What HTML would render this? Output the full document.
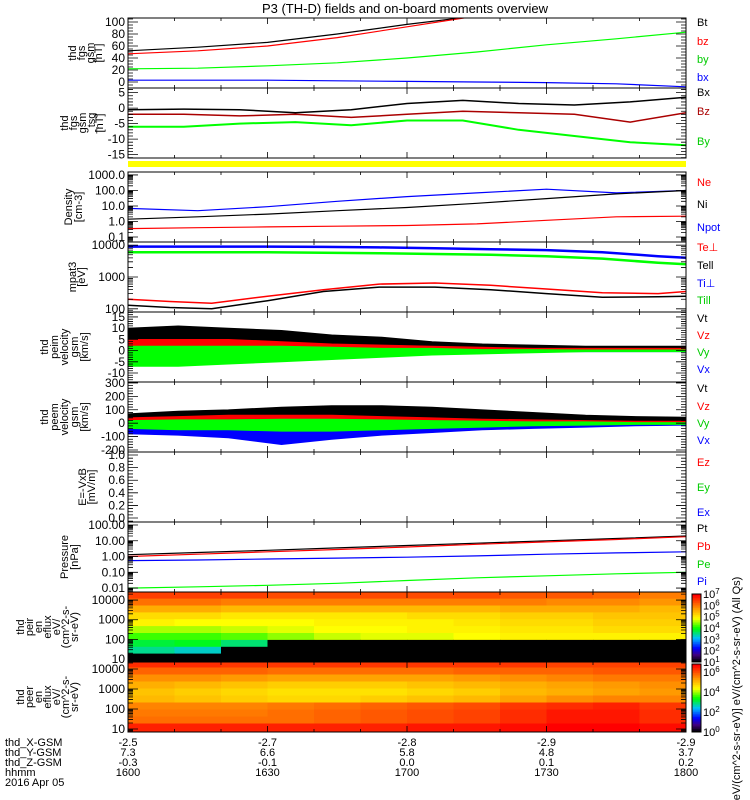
<!DOCTYPE html>
<html><head><meta charset="utf-8"><style>
body{margin:0;background:#fff;}
svg{display:block;font-family:"Liberation Sans",sans-serif;}
</style></head><body>
<svg id="chart" width="750" height="800" viewBox="0 0 750 800">
<rect width="750" height="800" fill="#fff"/>
<text x="405" y="13" font-size="13" text-anchor="middle">P3 (TH-D) fields and on-board moments overview</text>
<g id="marks"></g>
<g id="axes" stroke="#000" fill="none"></g>
<g id="labels" font-size="12" fill="#000"></g>
<rect x="128" y="161" width="558" height="6" fill="#ffff00"/>
<g font-size="11" fill="#000">
<text transform="translate(76,53) rotate(-90)" text-anchor="middle"><tspan x="0" dy="0">thd</tspan><tspan x="0" dy="9">fgs</tspan><tspan x="0" dy="9">gsm</tspan><tspan x="0" dy="8">[nT]</tspan></text>
<text transform="translate(68,123) rotate(-90)" text-anchor="middle"><tspan x="0" dy="0">thd</tspan><tspan x="0" dy="9">fgs</tspan><tspan x="0" dy="9">gsm</tspan><tspan x="0" dy="9">_tsg</tspan><tspan x="0" dy="8">[nT]</tspan></text>
<text transform="translate(72,207) rotate(-90)" text-anchor="middle"><tspan x="0" dy="0">Density</tspan><tspan x="0" dy="10">[cm-3]</tspan></text>
<text transform="translate(76,277) rotate(-90)" text-anchor="middle"><tspan x="0" dy="0">mpat3</tspan><tspan x="0" dy="9">[eV]</tspan></text>
<text transform="translate(48,347) rotate(-90)" text-anchor="middle"><tspan x="0" dy="0">thd</tspan><tspan x="0" dy="10">peim</tspan><tspan x="0" dy="10">velocity</tspan><tspan x="0" dy="10">gsm</tspan><tspan x="0" dy="10">[km/s]</tspan></text>
<text transform="translate(48,417) rotate(-90)" text-anchor="middle"><tspan x="0" dy="0">thd</tspan><tspan x="0" dy="10">peem</tspan><tspan x="0" dy="10">velocity</tspan><tspan x="0" dy="10">gsm</tspan><tspan x="0" dy="10">[km/s]</tspan></text>
<text transform="translate(86,487) rotate(-90)" text-anchor="middle"><tspan x="0" dy="0">E=-VxB</tspan><tspan x="0" dy="9">[mV/m]</tspan></text>
<text transform="translate(68,557) rotate(-90)" text-anchor="middle"><tspan x="0" dy="0">Pressure</tspan><tspan x="0" dy="10">[nPa]</tspan></text>
<text transform="translate(24,627) rotate(-90)" text-anchor="middle"><tspan x="0" dy="0">thd</tspan><tspan x="0" dy="9">peir</tspan><tspan x="0" dy="9">en</tspan><tspan x="0" dy="9">eflux</tspan><tspan x="0" dy="9">eV/</tspan><tspan x="0" dy="9">(cm^2-s-</tspan><tspan x="0" dy="9">sr-eV)</tspan></text>
<text transform="translate(24,697) rotate(-90)" text-anchor="middle"><tspan x="0" dy="0">thd</tspan><tspan x="0" dy="9">peer</tspan><tspan x="0" dy="9">en</tspan><tspan x="0" dy="9">eflux</tspan><tspan x="0" dy="9">eV/</tspan><tspan x="0" dy="9">(cm^2-s-</tspan><tspan x="0" dy="9">sr-eV)</tspan></text>
</g>
<g font-size="11">
<text x="697" y="26" fill="#000">Bt</text>
<text x="697" y="45" fill="#f00">bz</text>
<text x="697" y="63" fill="#0c0">by</text>
<text x="697" y="81" fill="#00f">bx</text>
<text x="697" y="96" fill="#000">Bx</text>
<text x="697" y="115" fill="#a00">Bz</text>
<text x="697" y="145" fill="#0c0">By</text>
<text x="697" y="186" fill="#f00">Ne</text>
<text x="697" y="208" fill="#000">Ni</text>
<text x="697" y="231" fill="#00f">Npot</text>
<text x="697" y="251" fill="#f00">Te⊥</text>
<text x="697" y="269" fill="#000">Tell</text>
<text x="697" y="287" fill="#00f">Ti⊥</text>
<text x="697" y="304" fill="#0c0">Till</text>
<text x="697" y="322" fill="#000">Vt</text>
<text x="697" y="339" fill="#f00">Vz</text>
<text x="697" y="356" fill="#0c0">Vy</text>
<text x="697" y="373" fill="#00f">Vx</text>
<text x="697" y="392" fill="#000">Vt</text>
<text x="697" y="410" fill="#f00">Vz</text>
<text x="697" y="427" fill="#0c0">Vy</text>
<text x="697" y="444" fill="#00f">Vx</text>
<text x="697" y="466" fill="#f00">Ez</text>
<text x="697" y="491" fill="#0c0">Ey</text>
<text x="697" y="516" fill="#00f">Ex</text>
<text x="697" y="532" fill="#000">Pt</text>
<text x="697" y="550" fill="#f00">Pb</text>
<text x="697" y="568" fill="#0c0">Pe</text>
<text x="697" y="585" fill="#00f">Pi</text>
</g>
<g id="cbar"></g>
<text transform="translate(740,690) rotate(-90)" font-size="11" text-anchor="middle">[eV/(cm^2-s-sr-eV)]   eV/(cm^2-s-sr-eV) (All Qs)</text>
<g font-size="11">
<text x="5" y="746">thd_X-GSM</text>
<text x="5" y="756">thd_Y-GSM</text>
<text x="5" y="766">thd_Z-GSM</text>
<text x="5" y="776">hhmm</text>
<text x="5" y="786">2016 Apr 05</text>
</g>
</svg>
<script>
var xTimes = [16.0, 16.5, 17.0, 17.5, 18.0];
var xGsm = ["-2.5", "-2.7", "-2.8", "-2.9", "-2.9"];
var yGsm = ["7.3", "6.6", "5.8", "4.8", "3.7"];
var zGsm = ["-0.3", "-0.1", "0.0", "0.1", "0.2"];
var hhmm = ["1600", "1630", "1700", "1730", "1800"];

var tB1 = [16.0, 16.25, 16.5, 16.75, 17.0, 17.25, 17.5, 17.75, 18.0];
var bt = [52, 58, 66, 80, 96, 110, 125, 140, 155];
var bz = [47, 52, 60, 74, 92, 110, 125, 140, 155];
var by = [22, 23, 27, 32, 40, 50, 62, 72, 83];
var bx = [3, 3, 3, 2, 1, 0, -1, -3, -8];

var tB2 = [16.0, 16.2, 16.4, 16.6, 16.8, 17.0, 17.2, 17.4, 17.6, 17.8, 18.0];
var bxTsg = [-0.5, -0.3, -0.5, -1.5, -0.5, 1.5, 2.5, 1.5, 1, 2, 3.5];
var bzTsg = [-2, -2, -2.5, -2, -3, -2, -1, -1.5, -2, -4.5, -1.5];
var byTsg = [-6, -6, -5, -4.5, -5.5, -4, -4, -7, -9, -11, -12];

var tN = [16.0, 16.25, 16.5, 16.75, 17.0, 17.25, 17.5, 17.75, 18.0];
var nNi = [1.4, 2, 3, 5, 8, 15, 30, 60, 100];
var nNe = [0.35, 0.4, 0.45, 0.5, 0.55, 0.7, 1.2, 2, 2.2];
var nNpot = [7, 5, 9, 20, 40, 70, 120, 70, 100];

var tT = [16.0, 16.15, 16.3, 16.5, 16.7, 16.9, 17.1, 17.3, 17.5, 17.7, 17.9, 18.0];
var tiPerp = [9000, 9000, 9000, 9000, 8800, 8500, 8000, 7500, 7000, 6000, 4500, 4000];
var tiPar = [6000, 6000, 6000, 6000, 5800, 5600, 5300, 5000, 4500, 3800, 2800, 2500];
var tePerp = [200, 170, 150, 250, 400, 600, 650, 550, 420, 320, 300, 350];
var tePar = [130, 110, 100, 180, 350, 480, 480, 400, 300, 230, 240, 250];

var tV = [16.0, 16.18, 16.36, 16.55, 16.73, 16.91, 17.09, 17.27, 17.45, 17.64, 17.82, 18.0];
var viTmax = [10, 11, 10, 9, 7, 6, 4, 3, 2.5, 2, 2, 2];
var viTmin = [2, 2, 2, 2, 1.5, 1, 1, 0.5, 0.5, 0.5, 0.5, 0.5];
var viZmax = [5, 5, 5, 4, 3, 2.5, 2, 1.5, 1, 1, 1, 1];
var viZmin = [-1, -1, -1, -1, -0.5, -0.5, 0, 0, 0, 0, 0, 0];
var viYmax = [2, 2, 2, 2, 1.5, 1, 1, 0.5, 0.5, 0.3, 0.3, 0.3];
var viYmin = [-7, -7, -6, -5, -4, -3, -2, -1.5, -1, -0.5, -0.5, -0.5];
var viXmax = [1, 1, 1, 1, 1, 0.5, 0.5, 0.3, 0.3, 0.2, 0.2, 0.2];
var viXmin = [-5, -5, -5, -4, -3, -2, -1.5, -1, -0.5, -0.5, -0.5, -0.5];

var veTmax = [70, 90, 100, 120, 130, 130, 120, 100, 80, 60, 50, 45];
var veTmin = [20, 30, 40, 40, 40, 40, 30, 25, 20, 15, 15, 15];
var veZmax = [40, 50, 60, 60, 60, 50, 40, 30, 25, 20, 15, 15];
var veZmin = [-10, -10, -10, -10, -10, -5, -5, 0, 0, 0, 0, 0];
var veYmax = [20, 25, 25, 30, 30, 25, 20, 15, 10, 10, 5, 5];
var veYmin = [-40, -50, -50, -60, -60, -50, -40, -30, -20, -15, -10, -10];
var veXmax = [10, 10, 10, 10, 10, 5, 5, 5, 5, 0, 0, 0];
var veXmin = [-80, -90, -110, -160, -120, -90, -70, -50, -40, -30, -20, -15];

var tP = [16.0, 16.25, 16.5, 16.75, 17.0, 17.25, 17.5, 17.75, 18.0];
var pPt = [1.3, 1.8, 2.5, 3.5, 5, 7, 10, 14, 20];
var pPb = [1.0, 1.4, 2.0, 2.8, 4, 6, 8.5, 12, 18];
var pPe = [0.55, 0.6, 0.7, 0.8, 0.9, 1.1, 1.4, 1.7, 2];
var pPi = [0.01, 0.012, 0.015, 0.02, 0.03, 0.045, 0.06, 0.08, 0.1];

var specEnergies = [4.25, 3.9, 3.55, 3.2, 2.85, 2.5, 2.15, 1.8, 1.45, 1.1];
var ionFlux = [
 [6.5,6.5,6.5,6.4,6.4,6.4,6.4,6.4,6.3,6.3,6.2,6.0],
 [6.1,6.1,6.0,6.0,6.0,6.0,6.0,6.0,6.0,5.9,5.9,5.8],
 [5.6,5.6,5.5,5.5,5.5,5.5,5.5,5.5,5.6,5.6,5.6,5.5],
 [5.2,5.2,5.1,5.1,5.1,5.1,5.2,5.2,5.3,5.3,5.4,5.4],
 [5.0,4.9,4.9,4.9,5.0,5.0,5.0,5.1,5.2,5.2,5.3,5.3],
 [4.6,4.6,4.7,4.8,4.9,4.9,5.0,5.0,5.1,5.1,5.2,5.2],
 [4.2,4.2,4.3,4.5,4.7,4.8,4.8,4.9,5.0,5.0,5.0,5.0],
 [3.8,3.9,3.6,0,0,0,0,0,0,0,0,0],
 [3.5,3.3,0,0,0,0,0,0,0,0,0,0],
 [0,0,0,0,0,0,0,0,0,0,0,0]
];
var eleFlux = [
 [6.4,6.4,6.3,6.3,6.3,6.3,6.3,6.3,6.3,6.2,6.2,6.2],
 [5.9,5.9,5.9,5.8,5.8,5.8,5.8,5.9,5.9,5.9,6.0,6.0],
 [5.5,5.5,5.4,5.3,5.3,5.3,5.3,5.4,5.5,5.6,5.7,5.7],
 [5.2,5.1,5.0,4.9,4.9,4.9,5.0,5.1,5.2,5.3,5.4,5.5],
 [5.0,4.9,4.8,4.7,4.7,4.7,4.8,4.9,5.1,5.2,5.3,5.4],
 [5.1,5.0,4.9,4.8,4.8,4.9,5.0,5.1,5.3,5.5,5.6,5.6],
 [5.6,5.6,5.6,5.7,5.8,5.9,6.0,6.1,6.3,6.4,6.5,6.3],
 [5.7,5.7,5.7,5.8,5.9,6.0,6.1,6.2,6.4,6.6,6.6,6.4],
 [5.8,5.8,5.8,5.8,5.9,6.0,6.1,6.2,6.4,6.6,6.6,6.4],
 [6.5,6.5,6.5,6.5,6.5,6.5,6.6,6.6,6.7,6.8,6.8,6.7]
];

var X0 = 128, X1 = 686, T0 = 16.0, T1 = 18.0;
var NS = 'http://www.w3.org/2000/svg';
var marks = document.getElementById('marks');
var axes = document.getElementById('axes');
var labels = document.getElementById('labels');
function xs(t) { return X0 + (t - T0) / (T1 - T0) * (X1 - X0); }
function mk(tag, parent) { var e = document.createElementNS(NS, tag); parent.appendChild(e); return e; }

var panels = [
 {top:18, bot:88, log:false, lo:-10, hi:106.7, ticks:[0,20,40,60,80,100], tl:["0","20","40","60","80","100"], minor:5},
 {top:88, bot:158, log:false, lo:-16.1, hi:6.5, ticks:[-15,-10,-5,0,5], tl:["-15","-10","-5","0","5"], minor:1},
 {top:172, bot:242, log:true, lo:-1.32, hi:3.19, ticks:[-1,0,1,2,3], tl:["0.1","1.0","10.0","100.0","1000.0"]},
 {top:242, bot:312, log:true, lo:1.9, hi:4.1, ticks:[2,3,4], tl:["100","1000","10000"]},
 {top:312, bot:382, log:false, lo:-14, hi:17.2, ticks:[-10,-5,0,5,10,15], tl:["-10","-5","0","5","10","15"], minor:1},
 {top:382, bot:452, log:false, lo:-215, hi:307, ticks:[-200,-100,0,100,200,300], tl:["-200","-100","0","100","200","300"], minor:20},
 {top:452, bot:522, log:false, lo:-0.063, hi:1.048, ticks:[0,0.2,0.4,0.6,0.8,1.0], tl:["0.0","0.2","0.4","0.6","0.8","1.0"], minor:0.05},
 {top:522, bot:592, log:true, lo:-2.25, hi:2.19, ticks:[-2,-1,0,1,2], tl:["0.01","0.10","1.00","10.00","100.00"]},
 {top:592, bot:662, log:true, lo:0.85, hi:4.41, ticks:[1,2,3,4], tl:["10","100","1000","10000"]},
 {top:662, bot:732, log:true, lo:0.85, hi:4.35, ticks:[1,2,3,4], tl:["10","100","1000","10000"]}
];
function ys(p, v) {
  var u = p.log ? Math.log10(v) : v;
  return p.bot - (u - p.lo) / (p.hi - p.lo) * (p.bot - p.top);
}

var defs = mk('defs', document.getElementById('chart'));
panels.forEach(function (p, i) {
  var cp = mk('clipPath', defs); cp.setAttribute('id', 'clip' + i);
  var r = mk('rect', cp); r.setAttribute('x', X0); r.setAttribute('y', p.top); r.setAttribute('width', X1 - X0); r.setAttribute('height', p.bot - p.top);
});

function line(pi, ts, vals, color, name, w) {
  var p = panels[pi];
  var d = ts.map(function (t, k) { return (k ? 'L' : 'M') + xs(t).toFixed(1) + ',' + ys(p, vals[k]).toFixed(1); }).join('');
  var e = mk('path', marks);
  e.setAttribute('d', d); e.setAttribute('fill', 'none'); e.setAttribute('stroke', color); e.setAttribute('stroke-width', w || 1.2);
  e.setAttribute('clip-path', 'url(#clip' + pi + ')');
  
  
}
function band(pi, ts, lo, hi, color, name) {
  var p = panels[pi];
  var d = ts.map(function (t, k) { return (k ? 'L' : 'M') + xs(t).toFixed(1) + ',' + ys(p, hi[k]).toFixed(1); }).join('');
  for (var k = ts.length - 1; k >= 0; k--) d += 'L' + xs(ts[k]).toFixed(1) + ',' + ys(p, lo[k]).toFixed(1);
  var e = mk('path', marks);
  e.setAttribute('d', d + 'Z'); e.setAttribute('fill', color); e.setAttribute('stroke', color); e.setAttribute('stroke-width', 0.8);
  e.setAttribute('clip-path', 'url(#clip' + pi + ')');
  
  
}

line(0, tB1, bt, '#000', 'series-bt');
line(0, tB1, bz, '#f00', 'series-bz');
line(0, tB1, by, '#0f0', 'series-by');
line(0, tB1, bx, '#00f', 'series-bx');
line(1, tB2, bxTsg, '#000', 'series-bx-tsg', 1.5);
line(1, tB2, bzTsg, '#a00', 'series-bz-tsg', 1.5);
line(1, tB2, byTsg, '#0f0', 'series-by-tsg', 2);
line(2, tN, nNpot, '#00f', 'series-npot');
line(2, tN, nNi, '#000', 'series-ni');
line(2, tN, nNe, '#f00', 'series-ne');
line(3, tT, tiPerp, '#00f', 'series-ti-perp', 2.5);
line(3, tT, tiPar, '#0f0', 'series-ti-par', 2.5);
line(3, tT, tePerp, '#f00', 'series-te-perp', 1.5);
line(3, tT, tePar, '#000', 'series-te-par', 1.5);
band(4, tV, viTmin, viTmax, '#000', 'series-vt-ion');
band(4, tV, viZmin, viZmax, '#f00', 'series-vz-ion');
band(4, tV, viXmin, viXmax, '#00f', 'series-vx-ion');
band(4, tV, viYmin, viYmax, '#0f0', 'series-vy-ion');
band(5, tV, veTmin, veTmax, '#000', 'series-vt-ele');
band(5, tV, veZmin, veZmax, '#f00', 'series-vz-ele');
band(5, tV, veXmin, veXmax, '#00f', 'series-vx-ele');
band(5, tV, veYmin, veYmax, '#0f0', 'series-vy-ele');
line(7, tP, pPt, '#000', 'series-pt');
line(7, tP, pPb, '#f00', 'series-pb');
line(7, tP, pPe, '#00f', 'series-pe');
line(7, tP, pPi, '#0f0', 'series-pi');

var stops = [[0,0,0,0],[0.1,64,0,128],[0.2,0,0,255],[0.35,0,190,255],[0.5,0,255,0],[0.65,255,255,0],[0.8,255,150,0],[1,255,0,0]];
function cmap(f) {
  if (f <= 0) return 'rgb(0,0,0)';
  if (f >= 1) return 'rgb(255,0,0)';
  for (var i = 1; i < stops.length; i++) if (f <= stops[i][0]) {
    var a = stops[i - 1], b = stops[i], u = (f - a[0]) / (b[0] - a[0]);
    return 'rgb(' + [1,2,3].map(function (j) { return Math.round(a[j] + u * (b[j] - a[j])); }).join(',') + ')';
  }
}
function spec(pi, mat, vmin, vmax, name) {
  var p = panels[pi], nc = mat[0].length;
  var g = mk('g', marks);
  
  
  var half = (specEnergies[0] - specEnergies[1]) / 2;
  mat.forEach(function (row, r) {
    var yTop = r === 0 ? p.top : ys(p, Math.pow(10, specEnergies[r] + half));
    var yBot = r === mat.length - 1 ? p.bot : ys(p, Math.pow(10, specEnergies[r] - half));
    row.forEach(function (v, c) {
      var x0 = xs(T0 + c * (T1 - T0) / nc), x1 = xs(T0 + (c + 1) * (T1 - T0) / nc);
      var e = mk('rect', g);
      e.setAttribute('x', x0.toFixed(1)); e.setAttribute('y', yTop.toFixed(1));
      e.setAttribute('width', (x1 - x0 + 0.5).toFixed(1)); e.setAttribute('height', (yBot - yTop + 0.5).toFixed(1));
      e.setAttribute('fill', v <= 0 ? '#000' : cmap((v - vmin) / (vmax - vmin)));
      
      
    });
  });
}
spec(8, ionFlux, 1, 7, 'ion-spectrogram');
spec(9, eleFlux, 0, 6.8, 'electron-spectrogram');

var cb = document.getElementById('cbar');
function colorbar(y0, y1, vmin, vmax, tks, name) {
  var n = 40;
  for (var i = 0; i < n; i++) {
    var r = mk('rect', cb);
    r.setAttribute('x', 692); r.setAttribute('width', 9);
    r.setAttribute('y', (y1 - (i + 1) * (y1 - y0) / n).toFixed(1)); r.setAttribute('height', ((y1 - y0) / n + 0.5).toFixed(1));
    r.setAttribute('fill', cmap(i / (n - 1)));
    
    
  }
  var o = mk('rect', cb); o.setAttribute('x', 692); o.setAttribute('y', y0); o.setAttribute('width', 9); o.setAttribute('height', y1 - y0); o.setAttribute('fill', 'none'); o.setAttribute('stroke', '#000');
  
  
  tks.forEach(function (k) {
    var y = y1 - (k - vmin) / (vmax - vmin) * (y1 - y0);
    var t = mk('text', cb); t.setAttribute('x', 703); t.setAttribute('y', y + 4); t.setAttribute('font-size', 11);
    t.textContent = '10'; var s = mk('tspan', t); s.setAttribute('dy', -4); s.setAttribute('font-size', 8); s.textContent = k;
    
    
  });
}
colorbar(594, 662, 1, 7, [1,2,3,4,5,6,7], 'ion-colorbar');
colorbar(664, 732, 0, 6.8, [0,2,4,6], 'electron-colorbar');

panels.forEach(function (p, i) {
  var fr = mk('rect', axes);
  fr.setAttribute('x', X0); fr.setAttribute('y', p.top); fr.setAttribute('width', X1 - X0); fr.setAttribute('height', p.bot - p.top);
  
  
  var d = '';
  p.ticks.forEach(function (v, k) {
    var y = ys(p, p.log ? Math.pow(10, v) : v);
    d += 'M' + X0 + ',' + y + 'h10M' + X1 + ',' + y + 'h-10';
    var t = mk('text', labels); t.setAttribute('x', X0 - 3); t.setAttribute('y', y + 4); t.setAttribute('text-anchor', 'end');
    t.textContent = p.tl[k];
    
    
  });
  if (p.log) {
    for (var e = Math.floor(p.lo); e < p.hi; e++) for (var m = 2; m < 10; m++) {
      var u = e + Math.log10(m); if (u < p.lo || u > p.hi) continue;
      var y = ys(p, Math.pow(10, u)); d += 'M' + X0 + ',' + y + 'h5M' + X1 + ',' + y + 'h-5';
    }
  } else {
    for (var v = Math.ceil(p.lo / p.minor) * p.minor; v <= p.hi; v += p.minor) {
      var y2 = ys(p, v); d += 'M' + X0 + ',' + y2 + 'h5M' + X1 + ',' + y2 + 'h-5';
    }
  }
  xTimes.forEach(function (t) { var x = xs(t); d += 'M' + x + ',' + p.top + 'v6M' + x + ',' + p.bot + 'v-6'; });
  for (var tm = T0; tm <= T1 + 1e-6; tm += 1 / 6) { var x3 = xs(tm); d += 'M' + x3 + ',' + p.top + 'v3M' + x3 + ',' + p.bot + 'v-3'; }
  var tk = mk('path', axes); tk.setAttribute('d', d); tk.setAttribute('stroke-width', 0.8);
  
  
});
xTimes.forEach(function (t, k) {
  var x = xs(t);
  [xGsm[k], yGsm[k], zGsm[k], hhmm[k]].forEach(function (s, r) {
    var e = mk('text', labels); e.setAttribute('x', x); e.setAttribute('y', 746 + r * 10); e.setAttribute('text-anchor', 'middle'); e.setAttribute('font-size', 11);
    e.textContent = s;
    
    
  });
});
</script>
</body></html>
